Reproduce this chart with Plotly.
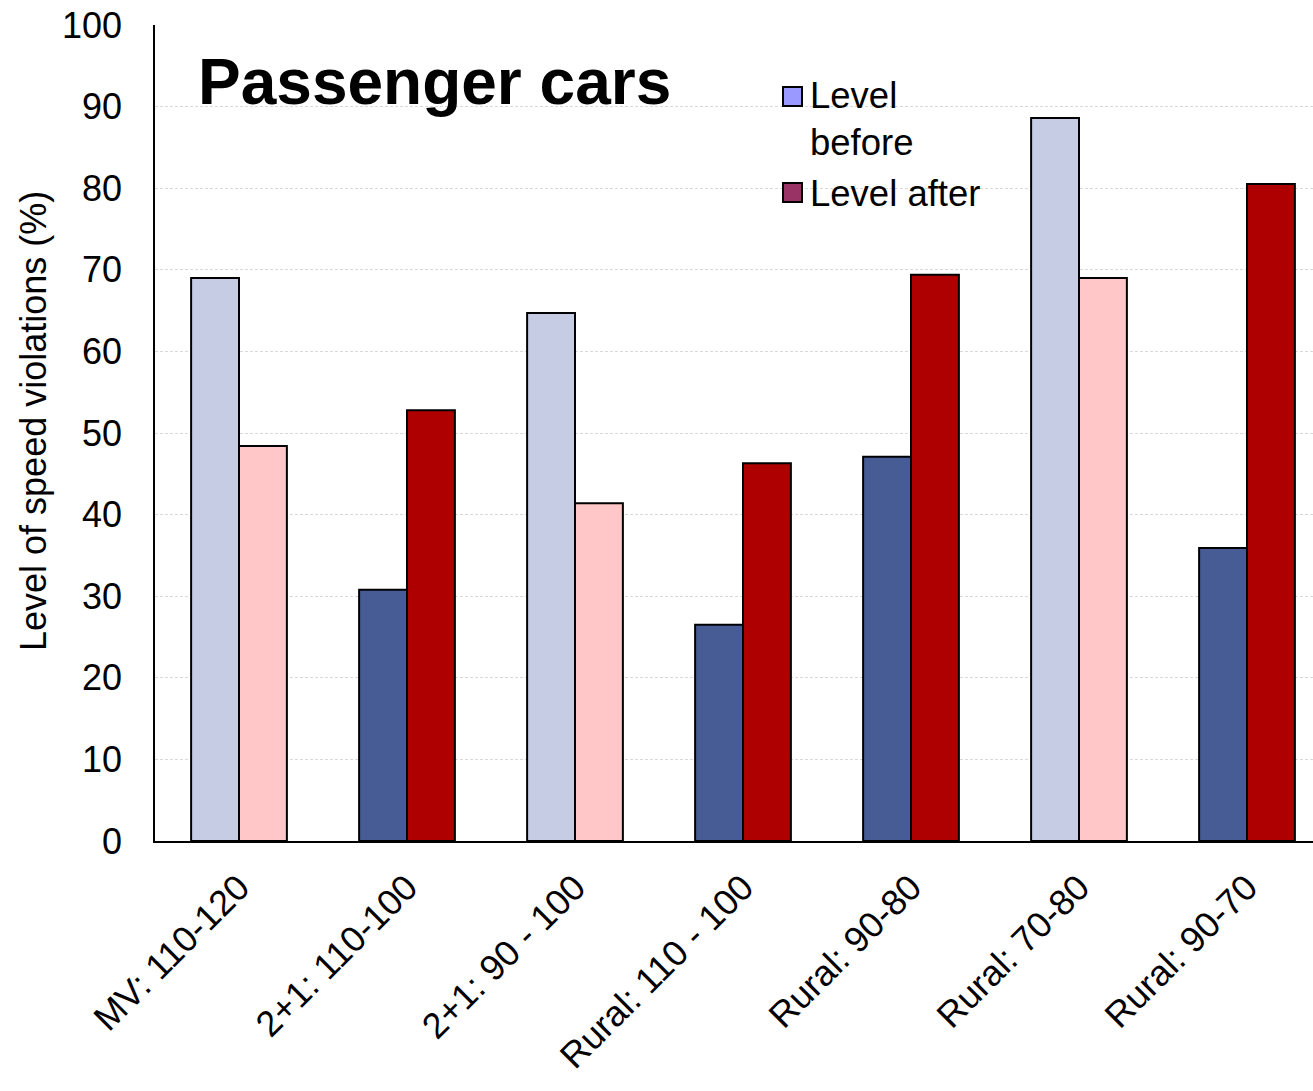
import plotly.graph_objects as go

categories = ["MV: 110-120", "2+1: 110-100", "2+1: 90 - 100", "Rural: 110 - 100",
              "Rural: 90-80", "Rural: 70-80", "Rural: 90-70"]
level_before = [69.0, 30.8, 64.7, 26.5, 47.1, 88.6, 35.9]
level_after = [48.4, 52.8, 41.4, 46.3, 69.4, 69.0, 80.5]
y_ticks = [0, 10, 20, 30, 40, 50, 60, 70, 80, 90, 100]

# styles
LIGHT_BLUE, DARK_BLUE = "#C5CCE4", "#475C95"
LIGHT_RED, DARK_RED = "#FFC7C7", "#AF0000"
light_groups = {"MV: 110-120", "2+1: 90 - 100", "Rural: 70-80"}
before_colors = [LIGHT_BLUE if c in light_groups else DARK_BLUE for c in categories]
after_colors = [LIGHT_RED if c in light_groups else DARK_RED for c in categories]

FONT = "Liberation Sans, Arial, sans-serif"

fig = go.Figure()
fig.add_trace(go.Bar(x=categories, y=level_before, name="Level before",
                     marker=dict(color=before_colors, line=dict(color="black", width=2)),
                     showlegend=False))
fig.add_trace(go.Bar(x=categories, y=level_after, name="Level after",
                     marker=dict(color=after_colors, line=dict(color="black", width=2)),
                     showlegend=False))

W, H = 1313, 1091
L, R, T, B = 155, 0, 25, 250
pw, ph = W - L - R, H - T - B
cat_px = 168.0  # pixel width of one category in the reference

def px(x):
    return (x - L) / pw

def py(y):
    return (H - B - y) / ph

shapes = [
    dict(type="rect", xref="paper", yref="paper", x0=px(783), x1=px(802), y0=py(106), y1=py(87),
         fillcolor="#9999FF", line=dict(color="black", width=2)),
    dict(type="rect", xref="paper", yref="paper", x0=px(783), x1=px(802), y0=py(202), y1=py(183),
         fillcolor="#993366", line=dict(color="black", width=2)),
]
annotations = [
    dict(text="<b>Passenger cars</b>", xref="paper", yref="paper", x=px(196), y=py(82),
         xanchor="left", yanchor="middle", showarrow=False,
         font=dict(size=64, color="black", family=FONT)),
    dict(text="Level<br>before", xref="paper", yref="paper", x=px(808), y=py(73),
         xanchor="left", yanchor="top", showarrow=False, align="left",
         font=dict(size=36.5, color="black", family=FONT)),
    dict(text="Level after", xref="paper", yref="paper", x=px(808), y=py(193),
         xanchor="left", yanchor="middle", showarrow=False, align="left",
         font=dict(size=36.5, color="black", family=FONT)),
    dict(text="Level of speed violations (%)", xref="paper", yref="paper", x=px(33), y=py(421),
         xanchor="center", yanchor="middle", showarrow=False, textangle=-90,
         font=dict(size=36, color="black", family=FONT)),
]

fig.update_layout(
    width=W, height=H,
    margin=dict(l=L, r=R, t=T, b=B, autoexpand=False),
    paper_bgcolor="white", plot_bgcolor="white",
    barmode="group", bargap=0.43, bargroupgap=0,
    font=dict(family=FONT, size=36, color="black"),
    shapes=shapes, annotations=annotations,
    showlegend=False,
)
fig.update_xaxes(range=[-0.5, -0.5 + pw / cat_px],
                 showline=True, linecolor="black", linewidth=2, showgrid=False,
                 tickangle=-45, tickfont=dict(size=36), ticks="", ticklabelstandoff=9)
fig.update_yaxes(range=[0, 100], tickvals=y_ticks, showline=True, linecolor="black", linewidth=1.5,
                 showgrid=True, gridcolor="#D9D9D9", gridwidth=1, griddash="3px,2px",
                 zeroline=False, ticks="", ticklabelstandoff=24, tickfont=dict(size=36))

fig.write_html("out.html")
